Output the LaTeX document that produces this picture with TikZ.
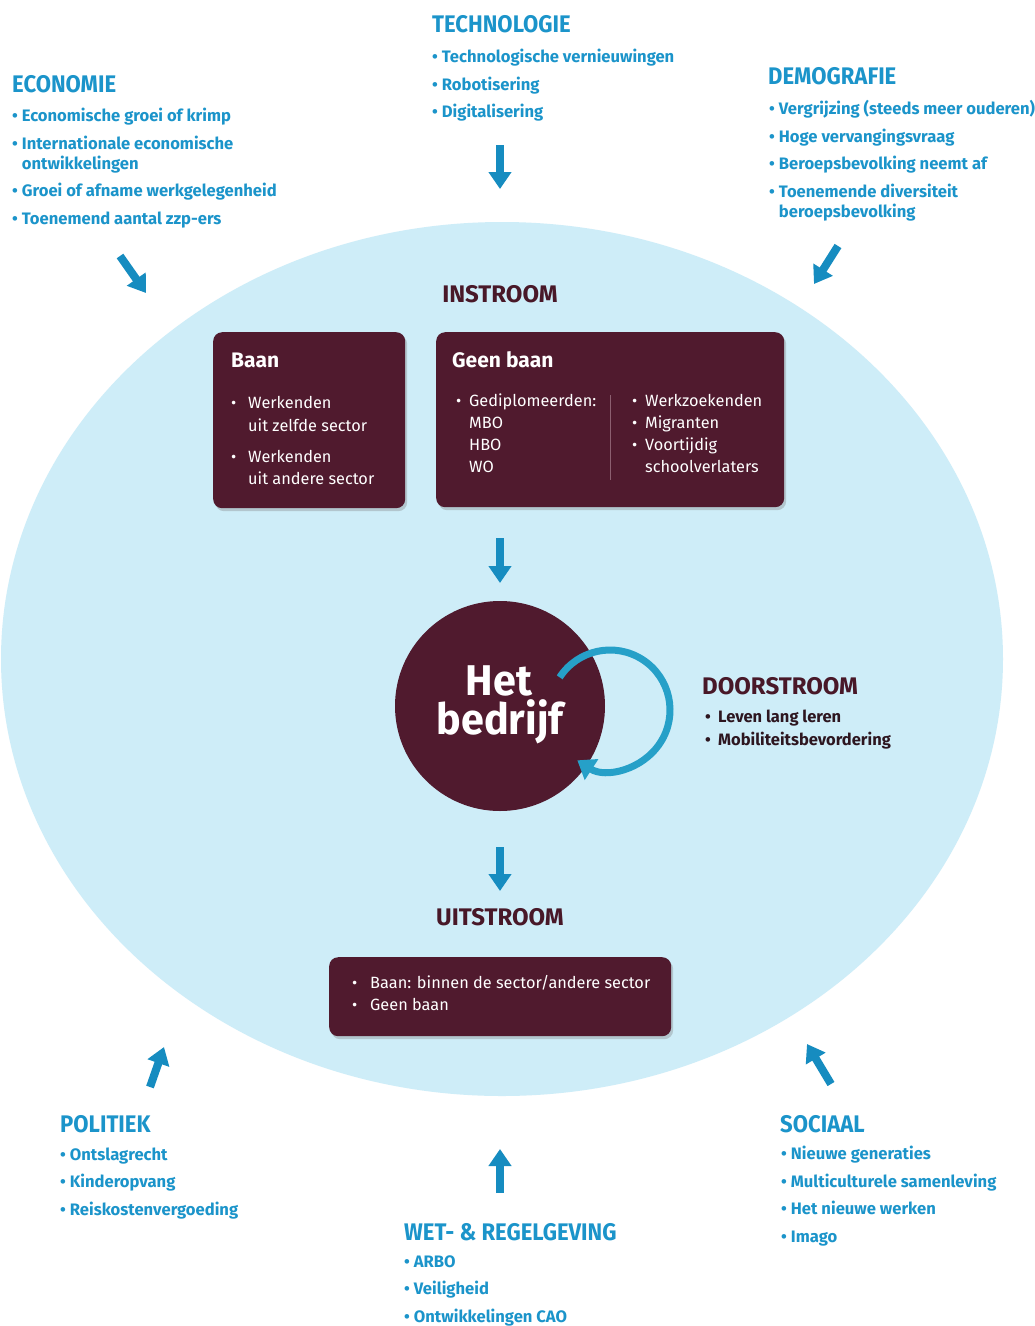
\documentclass[tikz,border=0pt]{standalone}
\usepackage{fontspec}
\setmainfont{Fira Sans}
\newfontfamily\headfont[FakeStretch=0.92]{Fira Sans Bold}
\newfontfamily\mheadfont{Fira Sans Bold}
\newfontfamily\bigfont[FakeStretch=0.96]{Fira Sans Bold}
\usetikzlibrary{arrows.meta,shapes.geometric,shadows}
\definecolor{cblue}{RGB}{27,148,202}
\definecolor{carrow}{RGB}{22,140,192}
\definecolor{cell}{RGB}{206,237,248}
\definecolor{cmaroon}{RGB}{80,26,46}
\definecolor{chead}{RGB}{72,24,40}
\definecolor{cdark}{RGB}{45,22,32}
\definecolor{cloop}{RGB}{38,160,200}
\definecolor{cdiv}{RGB}{140,95,112}
\newcommand{\bul}{\textbullet\hspace{4pt}}
\newcommand{\ind}{\hphantom{\textbullet\hspace{4pt}}}
\tikzset{
  heading/.style={font=\headfont\fontsize{24}{24}\selectfont, text=cblue, anchor=base west, inner sep=0pt},
  mhead/.style={font=\mheadfont\fontsize{24}{24}\selectfont, text=chead, anchor=base, inner sep=0pt},
  blist/.style={font=\bfseries\fontsize{16.6}{20}\selectfont, text=cblue, align=left, anchor=north west, inner sep=0pt},
  bigarrow/.style={draw=carrow, line width=8pt, -{Triangle[width=22pt,length=17pt]}},
  darkbox/.style={fill=cmaroon, rounded corners=9pt, drop shadow={opacity=0.35,shadow xshift=2pt,shadow yshift=-3pt}, anchor=north west, inner sep=0pt},
  boxtitle/.style={font=\bfseries\fontsize{21}{21}\selectfont, text=white, anchor=base west, inner sep=0pt},
  boxtext/.style={font=\fontsize{16.3}{22}\selectfont, text=white, anchor=base west, inner sep=0pt},
  boxbul/.style={font=\fontsize{16}{22}\selectfont, text=white, anchor=base west, inner sep=0pt},
  dtext/.style={font=\bfseries\fontsize{16.5}{23}\selectfont, text=cdark, anchor=base west, inner sep=0pt},
}
\begin{document}
\begin{tikzpicture}[x=1pt,y=-1pt]
\useasboundingbox (0,0) rectangle (1035,1326);
\fill[white] (0,0) rectangle (1035,1326);
% big ellipse
\node (oval) [ellipse, fill=cell, minimum width=1002pt, minimum height=874pt, inner sep=0pt] at (502,659) {};

% ---------- outer factors ----------
\node (ecoh) [heading] at (12,92) {ECONOMIE};
\node (ecol) [blist] at (12,108.2) {\bul Economische groei of krimp\\[7.5pt]\bul Internationale economische\\\ind ontwikkelingen\\[7.5pt]\bul Groei of afname werkgelegenheid\\[7.5pt]\bul Toenemend aantal zzp-ers};

\node (techh) [heading] at (432,32) {TECHNOLOGIE};
\node (techl) [blist] at (432,49.2) {\bul Technologische vernieuwingen\\[7.5pt]\bul Robotisering\\[7.5pt]\bul Digitalisering};

\node (demoh) [heading] at (768,84) {DEMOGRAFIE};
\node (demol) [blist] at (769,100.2) {\bul Vergrijzing (steeds meer ouderen)\\[7.5pt]\bul Hoge vervangingsvraag\\[7.5pt]\bul Beroepsbevolking neemt af\\[7.5pt]\bul Toenemende diversiteit\\\ind beroepsbevolking};

\node (polh) [heading] at (60,1132) {POLITIEK};
\node (poll) [blist] at (60,1147.2) {\bul Ontslagrecht\\[7.5pt]\bul Kinderopvang\\[7.5pt]\bul Reiskostenvergoeding};

\node (weth) [heading] at (404,1240) {WET- \& REGELGEVING};
\node (wetl) [blist] at (404,1255.2) {\bul ARBO\\[7.5pt]\bul Veiligheid\\[7.5pt]\bul Ontwikkelingen CAO};

\node (socl) [blist] at (781,1146.2) {\bul Nieuwe generaties\\[7.5pt]\bul Multiculturele samenleving\\[7.5pt]\bul Het nieuwe werken\\[7.5pt]\bul Imago};
\node (soch) [heading] at (780,1132) {SOCIAAL};

% outer arrows
\coordinate (ecoA) at (120,256); \coordinate (ecoB) at (146,293);
\coordinate (techA) at (500,145); \coordinate (techB) at (500,189);
\coordinate (demoA) at (838,246); \coordinate (demoB) at (814,284);
\coordinate (polA) at (150,1087); \coordinate (polB) at (164,1047);
\coordinate (wetA) at (500,1193); \coordinate (wetB) at (500,1149);
\coordinate (socA) at (831,1084); \coordinate (socB) at (807,1044);
\draw[bigarrow] (ecoA) -- (ecoB);
\draw[bigarrow] (techA) -- (techB);
\draw[bigarrow] (demoA) -- (demoB);
\draw[bigarrow] (polA) -- (polB);
\draw[bigarrow] (wetA) -- (wetB);
\draw[bigarrow] (socA) -- (socB);

% ---------- instroom ----------
\node (instr) [mhead] at (500,302) {INSTROOM};
\node (baan) [darkbox, minimum width=192pt, minimum height=176pt] at (213,332) {};
\node (geen) [darkbox, minimum width=348pt, minimum height=175pt] at (436,332) {};

\node (baant) [boxtitle] at (231,367) {Baan};
\node (b1) [boxbul] at (231,408) {\textbullet};
\node (b1a) [boxtext] at (248,408) {Werkenden};
\node (b1b) [boxtext] at (248,431) {uit zelfde sector};
\node (b2) [boxbul] at (231,462) {\textbullet};
\node (b2a) [boxtext] at (248,462) {Werkenden};
\node (b2b) [boxtext] at (248,484) {uit andere sector};

\node (geent) [boxtitle] at (452,367) {Geen baan};
\node (g1) [boxbul] at (456,406) {\textbullet};
\node (g1a) [boxtext] at (469,406) {Gediplomeerden:};
\node (g1b) [boxtext] at (469,428) {MBO};
\node (g1c) [boxtext] at (469,450) {HBO};
\node (g1d) [boxtext] at (469,472) {WO};
\coordinate (divA) at (610,395); \coordinate (divB) at (610,480);
\draw[cdiv, line width=0.8pt] (divA) -- (divB);
\node (g2) [boxbul] at (632,406) {\textbullet};
\node (g2a) [boxtext] at (645,406) {Werkzoekenden};
\node (g3) [boxbul] at (632,428) {\textbullet};
\node (g3a) [boxtext] at (645,428) {Migranten};
\node (g4) [boxbul] at (632,450) {\textbullet};
\node (g4a) [boxtext] at (645,450) {Voortijdig};
\node (g4b) [boxtext] at (645,472) {schoolverlaters};

% ---------- bedrijf ----------
\coordinate (inA) at (500,538); \coordinate (inB) at (500,583);
\draw[bigarrow] (inA) -- (inB);
\node (bedrijf) [circle, fill=cmaroon, minimum size=210pt, inner sep=0pt] at (500,706) {};
\node (het) [font=\bigfont\fontsize{43}{43}\selectfont, text=white, anchor=base, inner sep=0pt] at (499,695) {Het};
\node (bedr) [font=\bigfont\fontsize{43}{43}\selectfont, text=white, anchor=base, inner sep=0pt] at (500,734) {bedrijf};
\draw[cloop, line width=7pt, -{Triangle[width=24pt,length=17pt]}] (610,710) ++(147:60pt) arc[start angle=147, end angle=-123, radius=60pt];

\node (doorh) [mhead, anchor=base west] at (702,694) {DOORSTROOM};
\node (d1) [dtext] at (705,722) {\textbullet};
\node (d1a) [dtext] at (718,722) {Leven lang leren};
\node (d2) [dtext] at (705,745) {\textbullet};
\node (d2a) [dtext] at (718,745) {Mobiliteitsbevordering};

% ---------- uitstroom ----------
\coordinate (outA) at (500,847); \coordinate (outB) at (500,891);
\draw[bigarrow] (outA) -- (outB);
\node (uitstr) [mhead] at (500,925) {UITSTROOM};
\node (uit) [darkbox, minimum width=342pt, minimum height=79pt] at (329,957) {};
\node (u1) [boxbul] at (352,988) {\textbullet};
\node (u1a) [boxtext] at (370,988) {Baan: binnen de sector/andere sector};
\node (u2) [boxbul] at (352,1010) {\textbullet};
\node (u2a) [boxtext] at (370,1010) {Geen baan};
\end{tikzpicture}
\end{document}
